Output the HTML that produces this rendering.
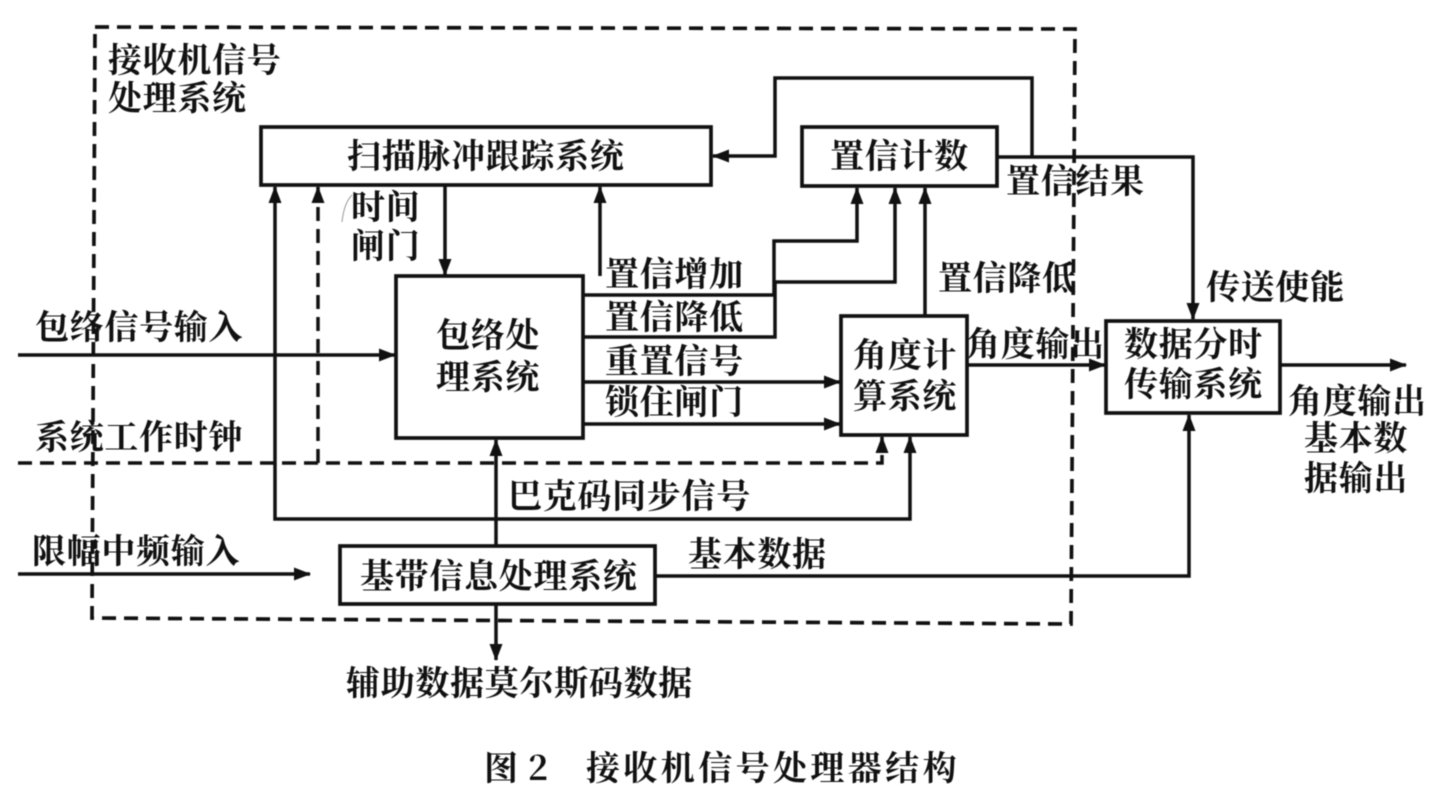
<!DOCTYPE html>
<html><head><meta charset="utf-8">
<style>
html,body{margin:0;padding:0;background:#fff;width:1441px;height:796px;overflow:hidden}
svg{display:block;filter:blur(.5px)}
text{font-family:"Noto Serif CJK SC","Noto Sans CJK SC","Liberation Serif",serif;font-size:34px;fill:#111;font-weight:700;letter-spacing:.7px}
</style></head><body>
<svg width="1441" height="796" viewBox="0 0 1441 796" xmlns="http://www.w3.org/2000/svg">
<defs>
<marker id="a" markerWidth="18" markerHeight="14" refX="16" refY="7" orient="auto" markerUnits="userSpaceOnUse"><path d="M0,0.5L17,7L0,13.5Z" fill="#111"/></marker>
<marker id="b" markerWidth="18" markerHeight="14" refX="2" refY="7" orient="auto" markerUnits="userSpaceOnUse"><path d="M18,0.5L1,7L18,13.5Z" fill="#111"/></marker>
</defs>
<g fill="none" stroke="#111" stroke-width="3.5">
<path d="M95 27L1075 29L1071 624L92 618Z" stroke-dasharray="14 8" stroke-width="3.7"/>
<rect x="261" y="127" width="450" height="58" stroke-width="3.7"/>
<rect x="802" y="127" width="195" height="59" stroke-width="3.7"/>
<rect x="396" y="276" width="187" height="162" stroke-width="3.7"/>
<rect x="841" y="316" width="126" height="119" stroke-width="3.7"/>
<rect x="1106" y="321" width="174" height="92" stroke-width="3.7"/>
<rect x="340" y="546" width="315" height="58" stroke-width="3.7"/>
<path d="M1032 157V78H775V156H713" marker-end="url(#a)"/>
<path d="M997 157H1193V319" marker-end="url(#a)"/>
<path d="M445 185V275" marker-end="url(#a)"/>
<path d="M600 276V187" marker-end="url(#a)"/>
<path d="M583 295H774V241H857V188" marker-end="url(#a)"/>
<path d="M583 337H775V282H895V188" marker-end="url(#a)"/>
<path d="M925 316V188" marker-end="url(#a)"/>
<path d="M583 382H840" marker-end="url(#a)"/>
<path d="M583 424H840" marker-end="url(#a)"/>
<path d="M18 355H395" marker-end="url(#a)"/>
<path d="M967 365H1105" marker-end="url(#a)"/>
<path d="M1280 365H1406" marker-end="url(#a)"/>
<path d="M275 187V519H910V437" marker-start="url(#b)" marker-end="url(#a)"/>
<path d="M18 574H310" marker-end="url(#a)"/>
<path d="M496 546V440" marker-end="url(#a)"/>
<path d="M496 604V660" marker-end="url(#a)"/>
<path d="M655 576H1189V415" marker-end="url(#a)"/>
<path d="M18 463H882V437" stroke-dasharray="14 8" marker-end="url(#a)"/>
<path d="M318 463V187" stroke-dasharray="14 8" marker-end="url(#a)"/>
<path d="M352 195Q344 203 342 222" stroke="#999" stroke-width="1"/>
</g>
<text x="108" y="72">接收机信号</text>
<text x="108" y="110">处理系统</text>
<text x="347" y="168">扫描脉冲跟踪系统</text>
<text x="830" y="168">置信计数</text>
<text x="1006" y="193">置信结果</text>
<text x="351" y="219">时间</text>
<text x="351" y="258">闸门</text>
<text x="605" y="286">置信增加</text>
<text x="605" y="329">置信降低</text>
<text x="605" y="373">重置信号</text>
<text x="605" y="414">锁住闸门</text>
<text x="938" y="290">置信降低</text>
<text x="1206" y="299">传送使能</text>
<text x="966" y="356">角度输出</text>
<text x="436" y="347">包络处</text>
<text x="436" y="389">理系统</text>
<text x="853" y="367">角度计</text>
<text x="853" y="408">算系统</text>
<text x="1124" y="356">数据分时</text>
<text x="1124" y="396">传输系统</text>
<text x="1288" y="413">角度输出</text>
<text x="1304" y="450">基本数</text>
<text x="1304" y="490">据输出</text>
<text x="35" y="339">包络信号输入</text>
<text x="35" y="449">系统工作时钟</text>
<text x="32" y="563">限幅中频输入</text>
<text x="508" y="508">巴克码同步信号</text>
<text x="688" y="566">基本数据</text>
<text x="360" y="588">基带信息处理系统</text>
<text x="346" y="695">辅助数据莫尔斯码数据</text>
<text x="484" y="780">图 2</text>
<text x="586" y="780" style="letter-spacing:3.4px">接收机信号处理器结构</text>
</svg>
</body></html>
